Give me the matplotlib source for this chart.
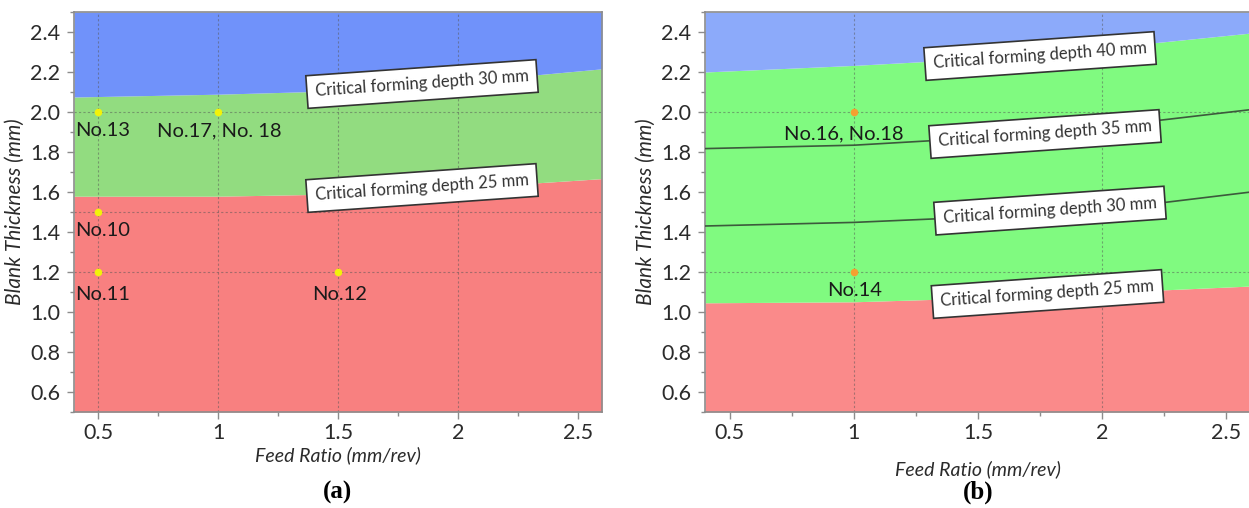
import numpy as np
import matplotlib
matplotlib.use('Agg')
import matplotlib.pyplot as plt
from matplotlib.ticker import MultipleLocator

plt.rcParams['font.family'] = ['Lato', 'DejaVu Sans']

# feed ratio positions where the boundaries were read
feed = [0.4, 1.0, 1.5, 2.0, 2.6]

# (a) critical forming depth boundaries
a_depth30 = [2.075, 2.089, 2.106, 2.15, 2.216]
a_depth25 = [1.579, 1.579, 1.59, 1.62, 1.667]

# (b) critical forming depth boundaries
b_depth40 = [2.20, 2.233, 2.267, 2.32, 2.395]
b_depth35 = [1.817, 1.834, 1.87, 1.925, 2.012]
b_depth30 = [1.43, 1.448, 1.475, 1.51, 1.60]
b_depth25 = [1.046, 1.051, 1.07, 1.097, 1.13]

# experiment points
a_pts_x = [0.5, 1.0, 0.5, 0.5, 1.5]
a_pts_y = [2.0, 2.0, 1.5, 1.2, 1.2]
a_pts_lab = ['No.13', 'No.17, No. 18', 'No.10', 'No.11', 'No.12']
a_lab_x = [0.52, 1.007, 0.52, 0.52, 1.507]
a_lab_y = [1.905, 1.905, 1.41, 1.09, 1.09]

b_pts_x = [1.0, 1.0]
b_pts_y = [2.0, 1.2]
b_pts_lab = ['No.16, No.18', 'No.14']
b_lab_x = [0.96, 1.003]
b_lab_y = [1.89, 1.11]

a_box_text = ['Critical forming depth 30 mm', 'Critical forming depth 25 mm']
a_box_x = [1.85, 1.85]
a_box_y = [2.14, 1.62]

b_box_text = ['Critical forming depth 40 mm', 'Critical forming depth 35 mm',
              'Critical forming depth 30 mm', 'Critical forming depth 25 mm']
b_box_x = [1.75, 1.77, 1.79, 1.78]
b_box_y = [2.28, 1.89, 1.507, 1.09]

W, H = 1249, 508
fig = plt.figure(figsize=(W / 100, H / 100), dpi=100)
ax_a = fig.add_axes([74 / W, 1 - 412 / H, (602 - 74) / W, 400 / H])
ax_b = fig.add_axes([705 / W, 1 - 412 / H, 546 / W, 400 / H])


def style_axis(ax, gx, gy, xlabelpad):
    ax.set_xlim(0.4, 2.6)
    ax.set_ylim(0.5, 2.5)
    ax.set_xticks([0.5, 1, 1.5, 2, 2.5])
    ax.set_xticklabels(['0.5', '1', '1.5', '2', '2.5'])
    ax.set_yticks(np.arange(0.6, 2.41, 0.2))
    ax.set_yticklabels(['%.1f' % v for v in np.arange(0.6, 2.41, 0.2)])
    ax.xaxis.set_minor_locator(MultipleLocator(0.25))
    ax.yaxis.set_minor_locator(MultipleLocator(0.1))
    ax.tick_params(which='major', length=5, width=1, color='#8c8c8c',
                   labelsize=15.5, labelcolor='#2b2b2b', pad=5)
    ax.tick_params(which='minor', length=3, width=1, color='#8c8c8c')
    ax.tick_params(axis='x', pad=3)
    for s in ax.spines.values():
        s.set_color('#8c8c8c')
        s.set_linewidth(1.2)
    for x in gx:
        ax.axvline(x, color='#555555', lw=0.8, ls=(0, (2, 2)), alpha=0.5, zorder=2)
    for y in gy:
        ax.axhline(y, color='#555555', lw=0.8, ls=(0, (2, 2)), alpha=0.5, zorder=2)
    ax.set_xlabel('Feed Ratio (mm/rev)', fontsize=14, style='italic',
                  color='#2b2b2b', labelpad=xlabelpad)
    ax.set_ylabel('Blank Thickness (mm)', fontsize=15, style='italic',
                  color='#2b2b2b', labelpad=4)


def box_label(ax, x, y, s):
    ax.text(x, y, s, fontsize=12, color='#333333', rotation=4,
            ha='center', va='center', rotation_mode='anchor', zorder=6,
            bbox=dict(boxstyle='square,pad=0.5', fc='white', ec='#333333', lw=1.2))


# panel (a)
ax_a.fill_between(feed, 0.5, a_depth25, color='#f88080', lw=0, zorder=1)
ax_a.fill_between(feed, a_depth25, a_depth30, color='#92dc80', lw=0, zorder=1)
ax_a.fill_between(feed, a_depth30, 2.5, color='#7092fa', lw=0, zorder=1)
style_axis(ax_a, [0.5, 1, 1.5, 2], [2.0, 1.5, 1.2], 2)
ax_a.scatter(a_pts_x, a_pts_y, s=30, color='#f2f20a', zorder=5, lw=0)
for lx, ly, t in zip(a_lab_x, a_lab_y, a_pts_lab):
    ax_a.text(lx, ly, t, fontsize=14.5, color='#1a1a1a', ha='center', va='center', zorder=5)
for bx, by, t in zip(a_box_x, a_box_y, a_box_text):
    box_label(ax_a, bx, by, t)

# panel (b)
ax_b.fill_between(feed, 0.5, b_depth25, color='#fa8a8a', lw=0, zorder=1)
ax_b.fill_between(feed, b_depth25, b_depth40, color='#80fa80', lw=0, zorder=1)
ax_b.fill_between(feed, b_depth40, 2.5, color='#8caafa', lw=0, zorder=1)
ax_b.plot(feed, b_depth35, color='#3c5a3c', lw=1.2, zorder=3)
ax_b.plot(feed, b_depth30, color='#3c5a3c', lw=1.2, zorder=3)
style_axis(ax_b, [1, 2], [2.0, 1.2], 12)
ax_b.spines['right'].set_visible(False)
ax_b.scatter(b_pts_x, b_pts_y, s=30, color='#f5a030', zorder=5, lw=0)
for lx, ly, t in zip(b_lab_x, b_lab_y, b_pts_lab):
    ax_b.text(lx, ly, t, fontsize=14.5, color='#1a1a1a', ha='center', va='center', zorder=5)
for bx, by, t in zip(b_box_x, b_box_y, b_box_text):
    box_label(ax_b, bx, by, t)

fig.text(338 / W, 1 - 492 / H, '(a)', fontsize=18, fontweight='bold',
         family='Liberation Serif', ha='center', va='center')
fig.text(978 / W, 1 - 492 / H, '(b)', fontsize=18, fontweight='bold',
         family='Liberation Serif', ha='center', va='center')

fig.savefig('out.png', dpi=100)
